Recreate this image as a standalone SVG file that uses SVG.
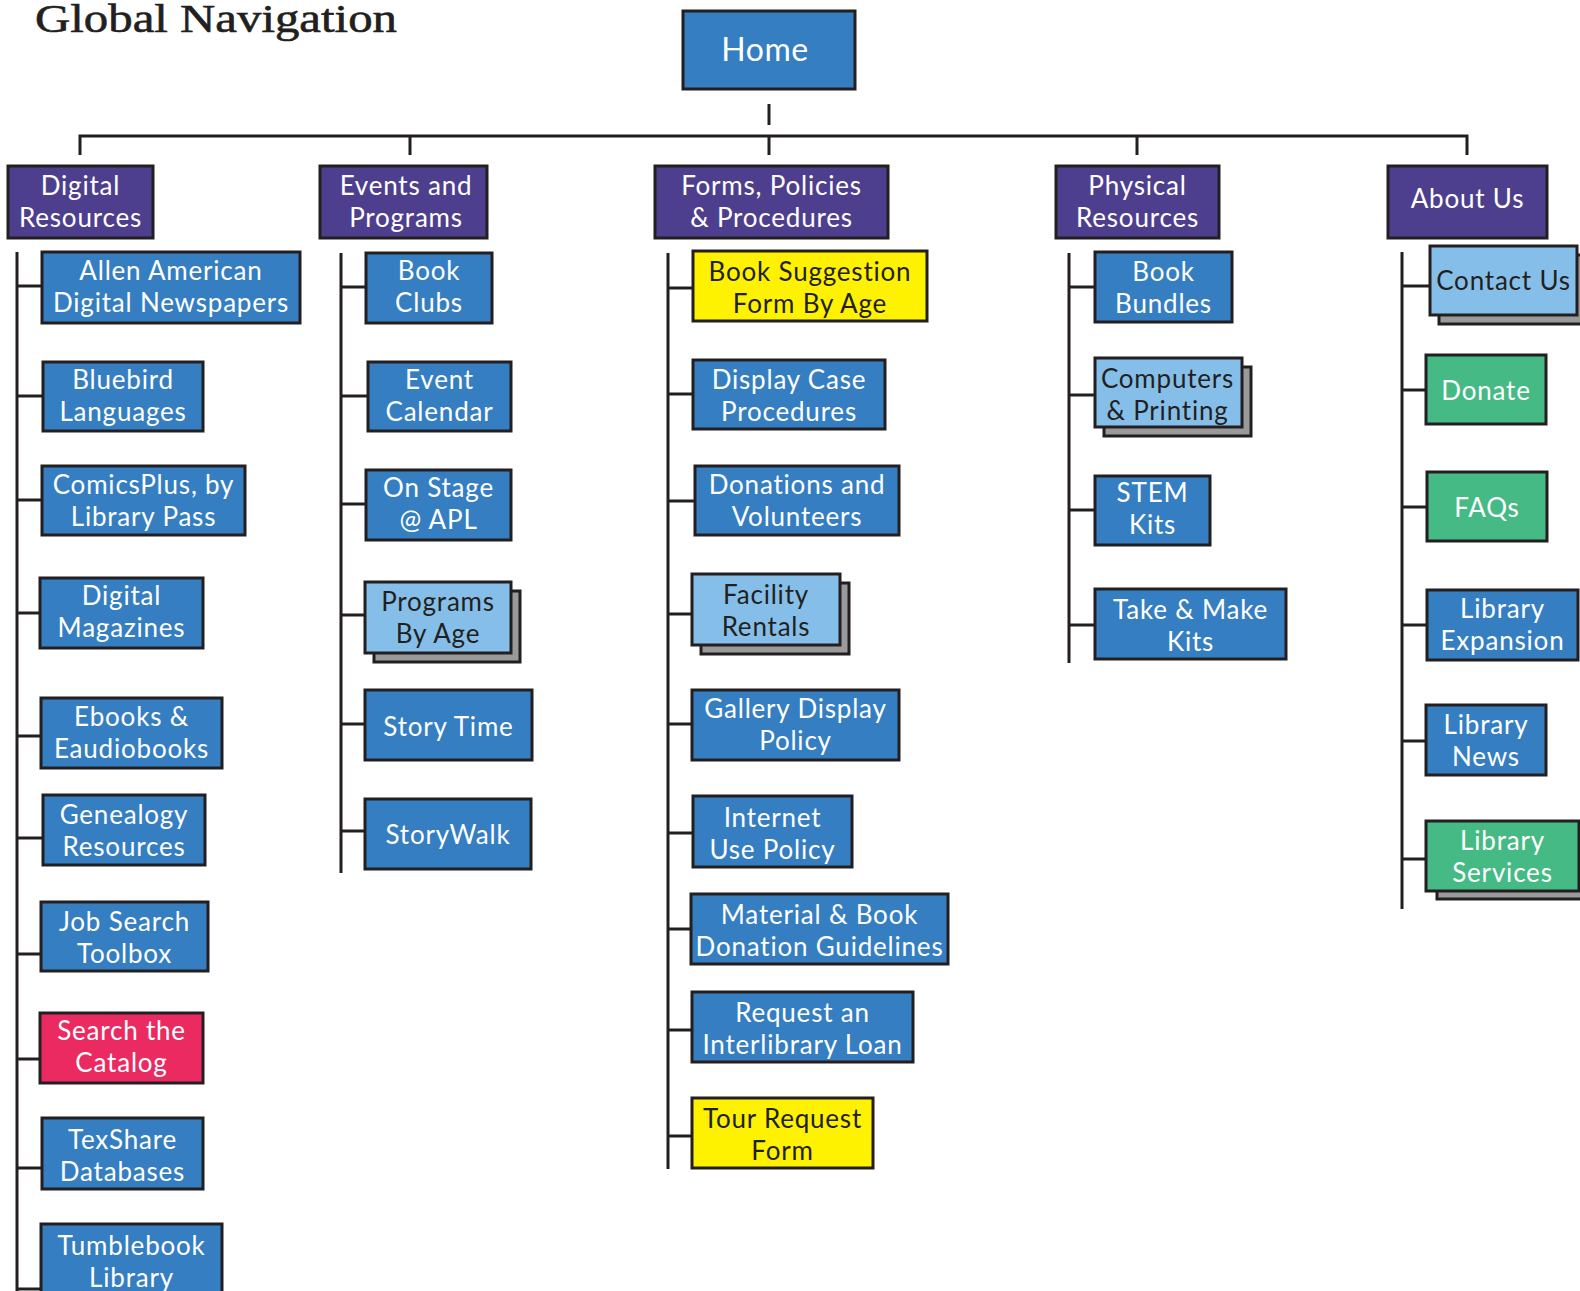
<svg xmlns="http://www.w3.org/2000/svg" width="1580" height="1291" viewBox="0 0 1580 1291">
<style>
rect{stroke:#231F20;stroke-width:3}
.p{fill:#4E3F8E}.b{fill:#357EC2}.lb{fill:#85BFE9}.g{fill:#45BA84}.y{fill:#FFF200}.r{fill:#EC2A62}.sh{fill:#9A9A9A}
text{font-family:Lato,"Noto Sans","Liberation Sans",sans-serif;font-size:26px;letter-spacing:0.8px;text-anchor:middle}
.w{fill:#FFFFFF}.d{fill:#231F20}
#conn path{fill:none;stroke:#231F20;stroke-width:3}
</style>
<text x="35" y="32" style="font-family:'Liberation Serif',serif;font-size:41px;text-anchor:start;letter-spacing:0" textLength="362" lengthAdjust="spacingAndGlyphs" fill="#231F20" stroke="#231F20" stroke-width="0.6">Global Navigation</text>
<g id="conn">
<path d="M769 104V125"/>
<path d="M80 155V136H1467V155M410 136V155M769 136V155M1137 136V155"/>
<path d="M17 252V1291M17 286H42M17 396H43M17 500H42M17 613H40M17 736H41M17 838H43M17 954H41M17 1059H40M17 1168H42M17 1289H41"/>
<path d="M341 253V873M341 287H366M341 396H368M341 504H366M341 615H365M341 724H365M341 831H365"/>
<path d="M668 253V1169M668 288H693M668 394H693M668 501H695M668 614H692M668 724H692M668 833H693M668 929H691M668 1030H692M668 1136H692"/>
<path d="M1069 253V663M1069 287H1095M1069 395H1095M1069 510H1095M1069 625H1095"/>
<path d="M1402 252V909M1402 286H1430M1402 390H1426M1402 507H1427M1402 625H1427M1402 741H1426M1402 859H1426"/>
</g>
<g id="home"><rect class="b" x="683" y="11" width="172" height="78"/><text class="w" x="765" y="61" style="font-size:32px;letter-spacing:0.5px">Home</text></g>
<g id="digital-resources"><rect class="p" x="8" y="166" width="145" height="72"/><text class="w"><tspan x="80.5" y="194.5">Digital</tspan><tspan x="80.5" y="226.5">Resources</tspan></text></g>
<g id="events-programs"><rect class="p" x="320" y="166" width="167" height="72"/><text class="w"><tspan x="406" y="195">Events and</tspan><tspan x="406" y="227">Programs</tspan></text></g>
<g id="forms-policies"><rect class="p" x="655" y="166" width="233" height="72"/><text class="w"><tspan x="771.5" y="194.5">Forms, Policies</tspan><tspan x="771.5" y="226.5">&amp; Procedures</tspan></text></g>
<g id="physical-resources"><rect class="p" x="1056" y="166" width="163" height="72"/><text class="w"><tspan x="1137.5" y="195">Physical</tspan><tspan x="1137.5" y="227">Resources</tspan></text></g>
<g id="about-us"><rect class="p" x="1388" y="166" width="159" height="72"/><text class="w" x="1467.5" y="208">About Us</text></g>

<g id="allen-american"><rect class="b" x="42" y="252" width="258" height="71"/><text class="w"><tspan x="171" y="280">Allen American</tspan><tspan x="171" y="312">Digital Newspapers</tspan></text></g>
<g id="bluebird"><rect class="b" x="43" y="362" width="160" height="69"/><text class="w"><tspan x="123" y="389">Bluebird</tspan><tspan x="123" y="421">Languages</tspan></text></g>
<g id="comicsplus"><rect class="b" x="42" y="466" width="203" height="69"/><text class="w"><tspan x="143.5" y="493.5">ComicsPlus, by</tspan><tspan x="143.5" y="525.5">Library Pass</tspan></text></g>
<g id="digital-magazines"><rect class="b" x="40" y="578" width="163" height="70"/><text class="w"><tspan x="121.5" y="604.5">Digital</tspan><tspan x="121.5" y="636.5">Magazines</tspan></text></g>
<g id="ebooks"><rect class="b" x="41" y="698" width="181" height="70"/><text class="w"><tspan x="131.5" y="726">Ebooks &amp;</tspan><tspan x="131.5" y="758">Eaudiobooks</tspan></text></g>
<g id="genealogy"><rect class="b" x="43" y="795" width="162" height="70"/><text class="w"><tspan x="124" y="823.5">Genealogy</tspan><tspan x="124" y="855.5">Resources</tspan></text></g>
<g id="job-search"><rect class="b" x="41" y="902" width="167" height="69"/><text class="w"><tspan x="124.5" y="931">Job Search</tspan><tspan x="124.5" y="963">Toolbox</tspan></text></g>
<g id="search-catalog"><rect class="r" x="40" y="1013" width="163" height="70"/><text class="w"><tspan x="121.5" y="1039.5">Search the</tspan><tspan x="121.5" y="1071.5">Catalog</tspan></text></g>
<g id="texshare"><rect class="b" x="42" y="1118" width="161" height="71"/><text class="w"><tspan x="122.5" y="1149">TexShare</tspan><tspan x="122.5" y="1181">Databases</tspan></text></g>
<g id="tumblebook"><rect class="b" x="41" y="1224" width="181" height="72"/><text class="w"><tspan x="131.5" y="1254.5">Tumblebook</tspan><tspan x="131.5" y="1286.5">Library</tspan></text></g>

<g id="book-clubs"><rect class="b" x="366" y="253" width="126" height="70"/><text class="w"><tspan x="429" y="279.5">Book</tspan><tspan x="429" y="311.5">Clubs</tspan></text></g>
<g id="event-calendar"><rect class="b" x="368" y="362" width="143" height="69"/><text class="w"><tspan x="439.5" y="389">Event</tspan><tspan x="439.5" y="421">Calendar</tspan></text></g>
<g id="on-stage"><rect class="b" x="366" y="470" width="145" height="70"/><text class="w"><tspan x="438.5" y="496.5">On Stage</tspan><tspan x="438.5" y="528.5">@ APL</tspan></text></g>
<g id="programs-by-age"><rect class="sh" x="374" y="591" width="146" height="71"/><rect class="lb" x="365" y="582" width="146" height="71"/><text class="d"><tspan x="438" y="611">Programs</tspan><tspan x="438" y="643">By Age</tspan></text></g>
<g id="story-time"><rect class="b" x="365" y="690" width="167" height="70"/><text class="w" x="448.5" y="736">Story Time</text></g>
<g id="storywalk"><rect class="b" x="365" y="799" width="166" height="70"/><text class="w" x="448" y="844">StoryWalk</text></g>

<g id="book-suggestion"><rect class="y" x="693" y="251" width="234" height="70"/><text class="d"><tspan x="810" y="280.5">Book Suggestion</tspan><tspan x="810" y="312.5">Form By Age</tspan></text></g>
<g id="display-case"><rect class="b" x="693" y="360" width="192" height="69"/><text class="w"><tspan x="789" y="389">Display Case</tspan><tspan x="789" y="421">Procedures</tspan></text></g>
<g id="donations-volunteers"><rect class="b" x="695" y="466" width="204" height="69"/><text class="w"><tspan x="797" y="494">Donations and</tspan><tspan x="797" y="526">Volunteers</tspan></text></g>
<g id="facility-rentals"><rect class="sh" x="701" y="583" width="148" height="71"/><rect class="lb" x="692" y="574" width="148" height="71"/><text class="d"><tspan x="766" y="604">Facility</tspan><tspan x="766" y="636">Rentals</tspan></text></g>
<g id="gallery-display"><rect class="b" x="692" y="690" width="207" height="70"/><text class="w"><tspan x="795.5" y="717.5">Gallery Display</tspan><tspan x="795.5" y="749.5">Policy</tspan></text></g>
<g id="internet-use"><rect class="b" x="693" y="796" width="159" height="71"/><text class="w"><tspan x="772.5" y="827">Internet</tspan><tspan x="772.5" y="859">Use Policy</tspan></text></g>
<g id="material-donation"><rect class="b" x="691" y="894" width="257" height="70"/><text class="w"><tspan x="819.5" y="923.5">Material &amp; Book</tspan><tspan x="819.5" y="955.5">Donation Guidelines</tspan></text></g>
<g id="interlibrary-loan"><rect class="b" x="692" y="992" width="221" height="70"/><text class="w"><tspan x="802.5" y="1021.5">Request an</tspan><tspan x="802.5" y="1053.5">Interlibrary Loan</tspan></text></g>
<g id="tour-request"><rect class="y" x="692" y="1098" width="181" height="70"/><text class="d"><tspan x="782.5" y="1127.5">Tour Request</tspan><tspan x="782.5" y="1159.5">Form</tspan></text></g>

<g id="book-bundles"><rect class="b" x="1095" y="252" width="137" height="70"/><text class="w"><tspan x="1163.5" y="280.5">Book</tspan><tspan x="1163.5" y="312.5">Bundles</tspan></text></g>
<g id="computers-printing"><rect class="sh" x="1104" y="367" width="147" height="69"/><rect class="lb" x="1095" y="358" width="147" height="69"/><text class="d"><tspan x="1167.5" y="388">Computers</tspan><tspan x="1167.5" y="420">&amp; Printing</tspan></text></g>
<g id="stem-kits"><rect class="b" x="1095" y="476" width="115" height="69"/><text class="w"><tspan x="1152.5" y="502">STEM</tspan><tspan x="1152.5" y="534">Kits</tspan></text></g>
<g id="take-make"><rect class="b" x="1095" y="589" width="191" height="70"/><text class="w"><tspan x="1190.5" y="618.5">Take &amp; Make</tspan><tspan x="1190.5" y="650.5">Kits</tspan></text></g>

<g id="contact-us"><rect class="sh" x="1439" y="255" width="147" height="69"/><rect class="lb" x="1430" y="246" width="147" height="69"/><text class="d" x="1503.5" y="289.5">Contact Us</text></g>
<g id="donate"><rect class="g" x="1426" y="355" width="120" height="69"/><text class="w" x="1486" y="399.5">Donate</text></g>
<g id="faqs"><rect class="g" x="1427" y="472" width="120" height="69"/><text class="w" x="1487" y="516.5">FAQs</text></g>
<g id="library-expansion"><rect class="b" x="1427" y="590" width="151" height="70"/><text class="w"><tspan x="1502.5" y="618">Library</tspan><tspan x="1502.5" y="650">Expansion</tspan></text></g>
<g id="library-news"><rect class="b" x="1426" y="705" width="120" height="70"/><text class="w"><tspan x="1486" y="734">Library</tspan><tspan x="1486" y="766">News</tspan></text></g>
<g id="library-services"><rect class="sh" x="1437" y="829" width="153" height="70"/><rect class="g" x="1426" y="821" width="153" height="70"/><text class="w"><tspan x="1502.5" y="849.5">Library</tspan><tspan x="1502.5" y="881.5">Services</tspan></text></g>
</svg>
